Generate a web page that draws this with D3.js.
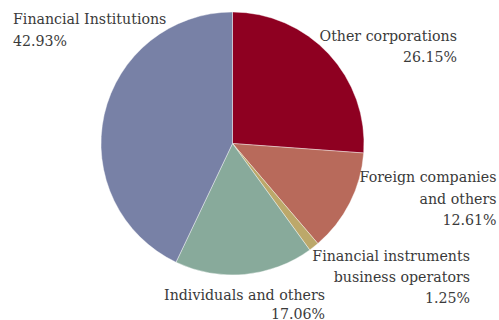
<!DOCTYPE html>
<html>
<head>
<meta charset="utf-8">
<script src="https://cdn.jsdelivr.net/npm/d3@7"></script>
<style>
  html, body { margin: 0; padding: 0; background: #fff; }
  svg { display: block; }
</style>
</head>
<body>
<svg id="chart" width="499" height="320"></svg>
<script>
// Shareholder composition (clockwise from 12 o'clock)
const categories = [
  "Other corporations",
  "Foreign companies and others",
  "Financial instruments business operators",
  "Individuals and others",
  "Financial Institutions"
];
const shares = [26.15, 12.61, 1.25, 17.06, 42.93];
const colors = ["#8e0021", "#b86a5b", "#bca86a", "#88aa9b", "#7881a6"];

// Label text lines for each slice (the percentage is appended as the last line)
const labelLines = [
  ["Other corporations"],
  ["Foreign companies", "and others"],
  ["Financial instruments", "business operators"],
  ["Individuals and others"],
  ["Financial Institutions"]
];

// Label placement: first-baseline anchor relative to the pie centre, line step
const labelPlace = [
  { x: 224.5, y: -102.8, step: 21, anchor: "end" },
  { x: 264, y: 38.8, step: 21.5, anchor: "end" },
  { x: 237.5, y: 117.5, step: 21, anchor: "end" },
  { x: 92.5, y: 156, step: 19, anchor: "end" },
  { x: -219.5, y: -119.2, step: 21.5, anchor: "start" }
];

const svg = d3.select("#chart");
const cx = 232.5, cy = 143.5, r = 131.5;

const pie = d3.pie().sort(null).value(d => d);
const arc = d3.arc().innerRadius(0).outerRadius(r);

const g = svg.append("g").attr("transform", `translate(${cx},${cy})`);

g.selectAll("path")
  .data(pie(shares))
  .join("path")
  .attr("d", arc)
  .attr("fill", (d, i) => colors[i])
  .attr("stroke", "#fff")
  .attr("stroke-width", 0.4);

const fmt = d3.format(".2f");

labelLines.forEach((lines, i) => {
  const p = labelPlace[i];
  const t = g.append("text")
    .attr("text-anchor", p.anchor)
    .attr("x", p.x)
    .attr("y", p.y)
    .attr("font-family", "'DejaVu Serif', serif")
    .attr("font-size", 14.2)
    .attr("fill", "#3a3a3a");
  const all = lines.concat([fmt(shares[i]) + "%"]);
  all.forEach((s, k) => {
    t.append("tspan")
      .attr("x", p.x)
      .attr("dy", k === 0 ? 0 : p.step)
      .text(s);
  });
});
</script>
</body>
</html>
